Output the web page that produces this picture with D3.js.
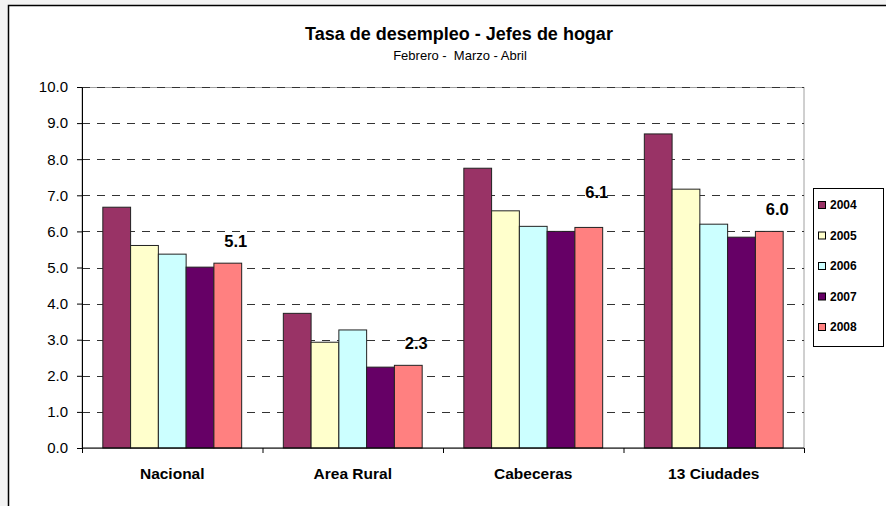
<!DOCTYPE html>
<html>
<head>
<meta charset="utf-8">
<script src="https://cdn.jsdelivr.net/npm/d3@7"></script>
<style>
  body { margin: 0; background: #f3f3f3; }
  svg { display: block; font-family: "Liberation Sans", Arial, sans-serif; }
</style>
</head>
<body>
<svg></svg>
<script>
// chart data
var categories = ['Nacional', 'Area Rural', 'Cabeceras', '13 Ciudades'];
var years = ['2004', '2005', '2006', '2007', '2008'];
var v2004 = [6.67, 3.73, 7.75, 8.70];
var v2005 = [5.61, 2.93, 6.57, 7.17];
var v2006 = [5.37, 3.27, 6.14, 6.20];
var v2007 = [5.01, 2.24, 6.00, 5.84];
var v2008 = [5.12, 2.29, 6.11, 6.00];
var yTicks = [0, 1, 2, 3, 4, 5, 6, 7, 8, 9, 10];
var colors = ['#993366', '#FFFFCC', '#CCFFFF', '#660066', '#FF8080'];

var series = [v2004, v2005, v2006, v2007, v2008];

var width = 886, height = 506;
var svg = d3.select('svg').attr('width', width).attr('height', height);

// white chart area with black frame (runs off the right / bottom edge)
svg.append('rect')
	.attr('x', 8.5).attr('y', 5.5)
	.attr('width', 900).attr('height', 520)
	.attr('fill', '#fff')
	.attr('stroke', '#000')
	.attr('stroke-width', 1.5);

// plot area bounds (not named top/left: window.top is taken)
var pLeft = 82, pRight = 804, pTop = 87, pBottom = 448;

var x0 = d3.scaleBand().domain(categories).range([pLeft, pRight]);
var x1 = d3.scaleBand().domain(years).range([0, x0.bandwidth()]).paddingOuter(0.75);
var y = d3.scaleLinear().domain([0, 10]).range([pBottom, pTop]);

// plot area border
svg.append('rect')
	.attr('x', pLeft).attr('y', pTop + 0.5)
	.attr('width', pRight - pLeft).attr('height', pBottom - pTop)
	.attr('fill', 'none')
	.attr('stroke', '#a0a0a0');

// dashed gridlines
svg.append('g')
	.selectAll('line')
	.data(yTicks.filter(function(d) { return d > 0; }))
	.join('line')
	.attr('x1', pLeft).attr('x2', pRight)
	.attr('y1', function(d) { return Math.round(y(d)) + 0.5; })
	.attr('y2', function(d) { return Math.round(y(d)) + 0.5; })
	.attr('stroke', '#333')
	.attr('stroke-dasharray', '8,7');

// bars
var rows = [];
categories.forEach(function(c, i) {
	years.forEach(function(yr, j) {
		rows.push({ cat: c, year: yr, value: series[j][i], color: colors[j] });
	});
});

svg.append('g')
	.selectAll('rect')
	.data(rows)
	.join('rect')
	.attr('x', function(d) { return x0(d.cat) + x1(d.year); })
	.attr('y', function(d) { return y(d.value); })
	.attr('width', x1.bandwidth())
	.attr('height', function(d) { return pBottom - y(d.value); })
	.attr('fill', function(d) { return d.color; })
	.attr('stroke', '#222')
	.attr('stroke-width', 1);

// y axis
var yAxis = svg.append('g')
	.attr('transform', 'translate(' + pLeft + ',0)')
	.call(d3.axisLeft(y).tickValues(yTicks).tickFormat(d3.format('.1f')).tickSize(5).tickSizeOuter(0));
yAxis.select('.domain').attr('stroke', '#000');
yAxis.selectAll('text')
	.attr('font-size', 15)
	.attr('font-family', '"Liberation Sans", Arial, sans-serif')
	.attr('fill', '#000')
	.attr('dx', -6);

// x axis with ticks between categories
var xAxis = svg.append('g').attr('transform', 'translate(0,' + pBottom + ')');
xAxis.append('line')
	.attr('x1', pLeft).attr('x2', pRight)
	.attr('stroke', '#000');
var edges = categories.map(function(c) { return x0(c); }).concat([pRight]);
xAxis.selectAll('.tk')
	.data(edges)
	.join('line')
	.attr('class', 'tk')
	.attr('x1', function(d) { return d + 0.5; })
	.attr('x2', function(d) { return d + 0.5; })
	.attr('y1', 0).attr('y2', 5)
	.attr('stroke', '#000');
xAxis.selectAll('.cl')
	.data(categories)
	.join('text')
	.attr('class', 'cl')
	.attr('x', function(d) { return x0(d) + x0.bandwidth() / 2; })
	.attr('y', 31)
	.attr('text-anchor', 'middle')
	.attr('font-weight', 'bold')
	.attr('font-size', 15.5)
	.text(function(d) { return d; });

// 2008 value labels
svg.append('g')
	.selectAll('text')
	.data(categories)
	.join('text')
	.attr('x', function(d) { return x0(d) + x1('2008') + x1.bandwidth() / 2 + 8; })
	.attr('y', function(d, i) { return y(v2008[i]) - (d === 'Cabeceras' ? 29 : 16); })
	.attr('text-anchor', 'middle')
	.attr('font-weight', 'bold')
	.attr('font-size', 16.5)
	.text(function(d, i) { return v2008[i].toFixed(1); });

// titles
svg.append('text')
	.attr('x', 459).attr('y', 40)
	.attr('text-anchor', 'middle')
	.attr('font-weight', 'bold')
	.attr('font-size', 18)
	.text('Tasa de desempleo - Jefes de hogar');
svg.append('text')
	.attr('x', 460).attr('y', 60)
	.attr('text-anchor', 'middle')
	.attr('font-size', 13)
	.style('white-space', 'pre')
	.text('Febrero -  Marzo - Abril');

// legend
var legend = svg.append('g');
legend.append('rect')
	.attr('x', 813.5).attr('y', 188.5)
	.attr('width', 70).attr('height', 158)
	.attr('fill', '#fff')
	.attr('stroke', '#000');
var items = legend.selectAll('.item')
	.data(years)
	.join('g')
	.attr('class', 'item')
	.attr('transform', function(d, i) { return 'translate(818,' + (205 + i * 30.5) + ')'; });
items.append('rect')
	.attr('x', 0.5).attr('y', -3.5)
	.attr('width', 7).attr('height', 7)
	.attr('fill', function(d, i) { return colors[i]; })
	.attr('stroke', '#000');
items.append('text')
	.attr('x', 12).attr('y', 4)
	.attr('font-weight', 'bold')
	.attr('font-size', 12)
	.text(function(d) { return d; });
</script>
</body>
</html>
